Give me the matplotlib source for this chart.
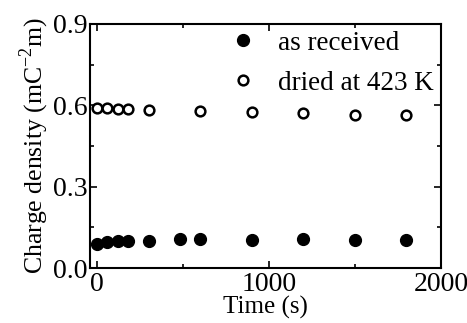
import matplotlib
matplotlib.use("Agg")
import matplotlib.pyplot as plt
from matplotlib.ticker import MultipleLocator

plt.rcParams['font.family'] = ['Liberation Serif', 'DejaVu Serif']
plt.rcParams['mathtext.fontset'] = 'custom'
plt.rcParams['mathtext.rm'] = 'Liberation Serif'

# as received
t_recv = [0, 60, 120, 180, 300, 480, 600, 900, 1200, 1500, 1800]
q_recv = [0.090, 0.095, 0.100, 0.100, 0.100, 0.106, 0.106, 0.104, 0.108, 0.105, 0.102]

# dried at 423 K
t_dry = [0, 60, 120, 180, 300, 600, 900, 1200, 1500, 1800]
q_dry = [0.590, 0.590, 0.587, 0.585, 0.583, 0.578, 0.575, 0.570, 0.565, 0.565]

fig = plt.figure(figsize=(4.67, 3.23), dpi=100)
ax = fig.add_axes([0.193, 0.170, 0.751, 0.756])

ax.plot(t_recv, q_recv, 'o', color='black', ms=8.5, mfc='black', mec='black',
        label='as received')
ax.plot(t_dry, q_dry, 'o', color='black', ms=7, mfc='white', mec='black',
        mew=1.8, label='dried at 423 K')

ax.set_xlim(-40, 2000)
ax.set_ylim(0, 0.9)
ax.xaxis.set_major_locator(MultipleLocator(1000))
ax.xaxis.set_minor_locator(MultipleLocator(500))
ax.yaxis.set_major_locator(MultipleLocator(0.3))
ax.yaxis.set_minor_locator(MultipleLocator(0.15))
ax.yaxis.set_major_formatter(plt.FuncFormatter(lambda v, p: f"{v:.1f}"))

ax.tick_params(which='both', direction='in', top=True, right=True,
               labelsize=20, width=1.2)
ax.tick_params(axis='x', pad=3)
ax.tick_params(axis='y', pad=2)
ax.tick_params(which='major', length=5)
ax.tick_params(which='minor', length=3)
for s in ax.spines.values():
    s.set_linewidth(1.5)

ax.set_xlabel('Time (s)', fontsize=18, labelpad=-1)
ax.set_ylabel('Charge density (mC$^{\\mathregular{-2}}$m)', fontsize=18.5, labelpad=1)

ax.legend(loc='upper right', frameon=False, fontsize=19.5, handletextpad=0.8,
          borderaxespad=0.0, labelspacing=0.55, handlelength=1.0,
          borderpad=0.25)

fig.savefig('out.png', dpi=100)
